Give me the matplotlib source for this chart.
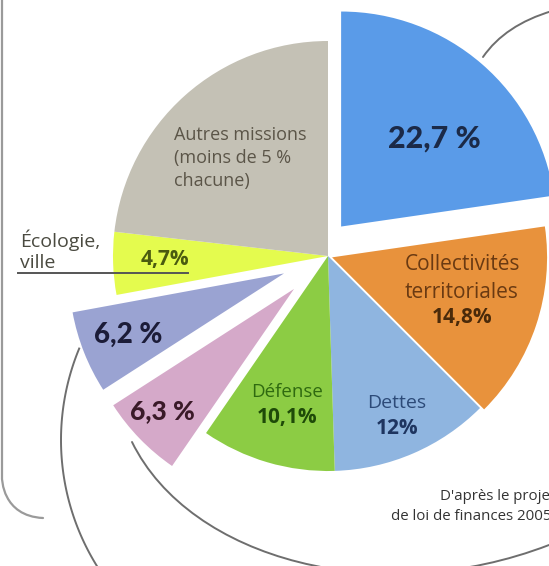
import numpy as np
import matplotlib
matplotlib.use("Agg")
import matplotlib.pyplot as plt
from matplotlib.path import Path
from matplotlib.patches import PathPatch

plt.rcParams['font.family'] = ['Open Sans', 'DejaVu Sans']

# ---- data ----
categories = ["Enseignement scolaire", "Collectivités territoriales", "Dettes", "Défense",
              "Autre (6,3 %)", "Autre (6,2 %)", "Écologie, ville", "Autres missions"]
values = [22.7, 14.8, 12.0, 10.1, 6.3, 6.2, 4.7, 23.2]
value_labels = ["22,7 %", "14,8%", "12%", "10,1%", "6,3 %", "6,2 %", "4,7%", ""]
colors = ["#5a9be8", "#e8923c", "#8fb5e0", "#8ccc44", "#d5a9c9", "#9aa3d2", "#e4fb4e", "#c4c1b5"]
explode = [0.15, 0.02, 0, 0, 0.22, 0.22, 0, 0]

W, H = 549, 566
fig = plt.figure(figsize=(W / 100, H / 100), dpi=100)
ax = fig.add_axes([0, 0, 1, 1])
ax.set_axis_off()

def Y(y):
    return H - y

cx, cy, R = 328, Y(256), 215
wedges, _ = ax.pie(values, colors=colors, startangle=90, counterclock=False,
                   radius=R, center=(cx, cy), explode=[e * R for e in explode],
                   wedgeprops=dict(linewidth=0))
# blue slice pulled more upward
d = explode[0] * R
ang = np.deg2rad(66)
wedges[0].set_center((cx + d * np.cos(ang), cy + d * np.sin(ang)))

ax.set_xlim(0, W)
ax.set_ylim(0, H)
ax.set_aspect('auto')

# ---- decorative lines ----
def bez(pts, codes, color="#6e6e6e", lw=1.4):
    p = Path([(x, Y(y)) for x, y in pts], codes)
    ax.add_patch(PathPatch(p, fill=False, edgecolor=color, lw=lw, capstyle='round'))

C4 = Path.CURVE4
C3 = Path.CURVE3
MV = Path.MOVETO
LT = Path.LINETO
# left frame
bez([(2, -5), (2, 478), (2, 478), (2, 516), (43, 518)], [MV, LT, C4, C4, C4], color="#9a9a9a", lw=1.6)
# arc near the 6,2 % slice
t = np.deg2rad(np.linspace(157.5, 214, 60))
ax.plot(300 + 239 * np.cos(t), Y(440) + 239 * np.sin(t), color="#6e6e6e", lw=1.4)
# bowl curve under the pie
bez([(132, 442), (190, 560), (380, 610), (549, 545)], [MV, C4, C4, C4])
# top right curve
bez([(483, 57), (505, 25), (552, 11)], [MV, C3, C3])
# underline of Écologie label
ax.plot([18, 188], [Y(272.5), Y(272.5)], color="#555555", lw=1.4)

# ---- texts ----
BIG = ['Lato', 'DejaVu Sans']

def txt(x, y, s, size, color, weight="normal", ha="center", family=None):
    kw = {} if family is None else {"family": family}
    ax.text(x, Y(y), s, fontsize=size, color=color, fontweight=weight,
            ha=ha, va="center", **kw)

for yy, s in zip([135, 158, 181], ["Autres missions", "(moins de 5 %", "chacune)"]):
    txt(174, yy, s, 13, "#5b5548", ha="left")

txt(434, 139, value_labels[0], 22, "#1b2a48", "black", family=BIG)
txt(462, 265, "Collectivités", 15, "#6a3a12")
txt(462, 292, "territoriales", 15, "#6a3a12")
txt(462, 318, value_labels[1], 15, "#4a2a0a", "bold")
txt(397, 403, "Dettes", 14, "#2c4a78")
txt(397, 429, value_labels[2], 15, "#1e3560", "bold")
txt(287, 392, "Défense", 13.5, "#2f6a10")
txt(287, 418, value_labels[3], 15, "#1e4a08", "bold")
txt(162, 411, value_labels[4], 19, "#3a1a28", "black", family=BIG)
txt(128, 335, value_labels[5], 20, "#1c1c38", "black", family=BIG)
txt(20, 240, "Écologie,", 14, "#4a4a40", ha="left")
txt(20, 263, "ville", 14, "#4a4a40", ha="left")
txt(165, 260, value_labels[6], 15, "#4a5a10", "bold")

txt(440, 497, "D'après le projet", 10.8, "#333333", ha="left")
txt(391, 517, "de loi de finances 2005", 10.8, "#333333", ha="left")

fig.savefig("out.png", dpi=100, facecolor="white")
